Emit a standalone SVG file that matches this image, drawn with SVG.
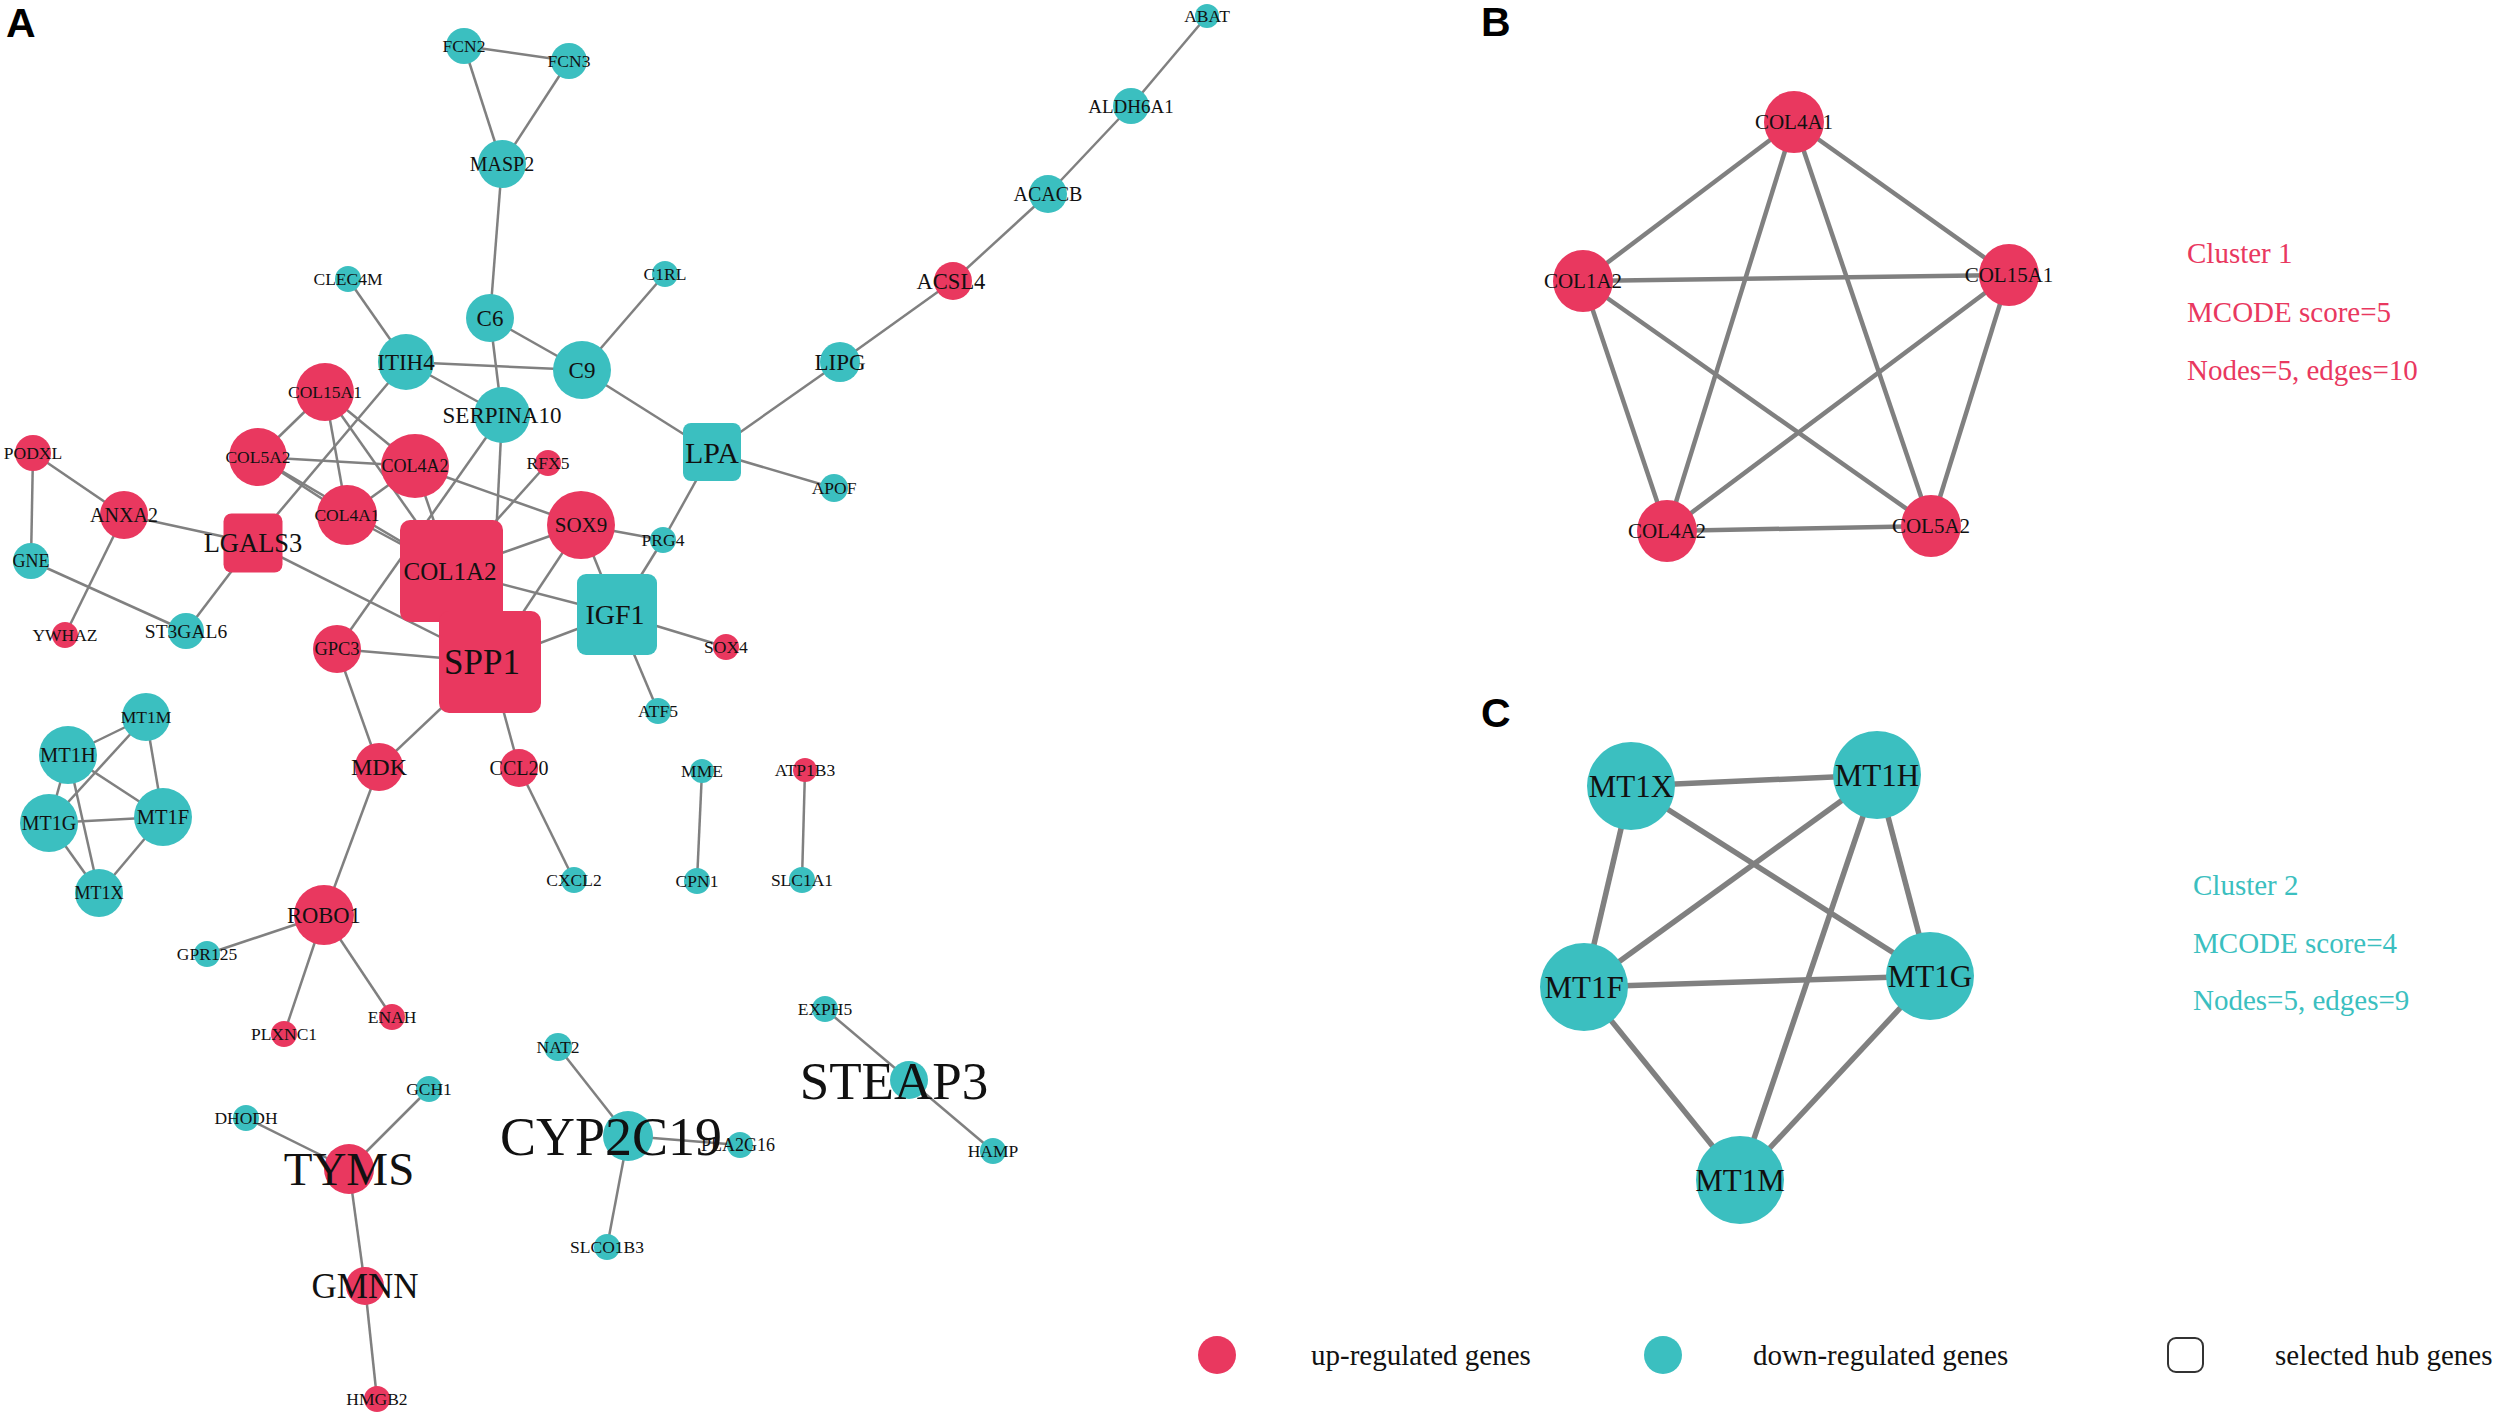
<svg xmlns="http://www.w3.org/2000/svg" width="2500" height="1426" viewBox="0 0 2500 1426">
<style>
.e{stroke:#808080;stroke-width:2.5;fill:none}
.eb{stroke:#808080;stroke-width:4.5;fill:none}
.ec{stroke:#808080;stroke-width:5.5;fill:none}
.up{fill:#E9385F}
.dn{fill:#3BBFC0}
.t{font-family:"Liberation Serif","Times New Roman",serif;text-anchor:middle;fill:#111}
.s{font-size:17.5px}
.pl{font-family:"Liberation Sans",Arial,sans-serif;font-weight:bold;font-size:41px;fill:#000}
.info{font-family:"Liberation Serif","Times New Roman",serif;font-size:29px}
.lg{font-family:"Liberation Serif","Times New Roman",serif;font-size:29px;fill:#111}
</style>
<rect width="2500" height="1426" fill="#fff"/>
<text class="pl" x="6" y="37">A</text>
<text class="pl" x="1481" y="36">B</text>
<text class="pl" x="1481" y="727">C</text>

<g id="edges">
<g id="edges-A">
<line class="e" x1="464" y1="46" x2="569" y2="61"/>
<line class="e" x1="464" y1="46" x2="502" y2="164"/>
<line class="e" x1="569" y1="61" x2="502" y2="164"/>
<line class="e" x1="502" y1="164" x2="490" y2="318"/>
<line class="e" x1="490" y1="318" x2="582" y2="370"/>
<line class="e" x1="490" y1="318" x2="502" y2="415"/>
<line class="e" x1="582" y1="370" x2="665" y2="274"/>
<line class="e" x1="582" y1="370" x2="406" y2="362"/>
<line class="e" x1="582" y1="370" x2="712" y2="452"/>
<line class="e" x1="348" y1="279" x2="406" y2="362"/>
<line class="e" x1="406" y1="362" x2="502" y2="415"/>
<line class="e" x1="406" y1="362" x2="253" y2="543"/>
<line class="e" x1="502" y1="415" x2="490" y2="662"/>
<line class="e" x1="502" y1="415" x2="337" y2="649"/>
<line class="e" x1="325" y1="392" x2="258" y2="457"/>
<line class="e" x1="325" y1="392" x2="415" y2="466"/>
<line class="e" x1="325" y1="392" x2="347" y2="515"/>
<line class="e" x1="325" y1="392" x2="451" y2="571"/>
<line class="e" x1="258" y1="457" x2="415" y2="466"/>
<line class="e" x1="258" y1="457" x2="347" y2="515"/>
<line class="e" x1="258" y1="457" x2="451" y2="571"/>
<line class="e" x1="415" y1="466" x2="347" y2="515"/>
<line class="e" x1="415" y1="466" x2="451" y2="571"/>
<line class="e" x1="347" y1="515" x2="451" y2="571"/>
<line class="e" x1="415" y1="466" x2="581" y2="525"/>
<line class="e" x1="548" y1="463" x2="451" y2="571"/>
<line class="e" x1="33" y1="453" x2="124" y2="515"/>
<line class="e" x1="33" y1="453" x2="31" y2="561"/>
<line class="e" x1="124" y1="515" x2="65" y2="635"/>
<line class="e" x1="124" y1="515" x2="253" y2="543"/>
<line class="e" x1="31" y1="561" x2="186" y2="631"/>
<line class="e" x1="253" y1="543" x2="186" y2="631"/>
<line class="e" x1="253" y1="543" x2="490" y2="662"/>
<line class="e" x1="581" y1="525" x2="663" y2="540"/>
<line class="e" x1="581" y1="525" x2="451" y2="571"/>
<line class="e" x1="581" y1="525" x2="490" y2="662"/>
<line class="e" x1="581" y1="525" x2="617" y2="614"/>
<line class="e" x1="712" y1="452" x2="840" y2="362"/>
<line class="e" x1="712" y1="452" x2="834" y2="488"/>
<line class="e" x1="712" y1="452" x2="663" y2="540"/>
<line class="e" x1="663" y1="540" x2="617" y2="614"/>
<line class="e" x1="617" y1="614" x2="451" y2="571"/>
<line class="e" x1="617" y1="614" x2="490" y2="662"/>
<line class="e" x1="617" y1="614" x2="726" y2="647"/>
<line class="e" x1="617" y1="614" x2="658" y2="711"/>
<line class="e" x1="451" y1="571" x2="490" y2="662"/>
<line class="e" x1="337" y1="649" x2="490" y2="662"/>
<line class="e" x1="337" y1="649" x2="379" y2="767"/>
<line class="e" x1="490" y1="662" x2="379" y2="767"/>
<line class="e" x1="490" y1="662" x2="519" y2="768"/>
<line class="e" x1="519" y1="768" x2="574" y2="880"/>
<line class="e" x1="379" y1="767" x2="324" y2="915"/>
<line class="e" x1="702" y1="771" x2="697" y2="881"/>
<line class="e" x1="805" y1="770" x2="802" y2="880"/>
<line class="e" x1="68" y1="755" x2="146" y2="717"/>
<line class="e" x1="146" y1="717" x2="49" y2="823"/>
<line class="e" x1="146" y1="717" x2="163" y2="817"/>
<line class="e" x1="68" y1="755" x2="163" y2="817"/>
<line class="e" x1="49" y1="823" x2="163" y2="817"/>
<line class="e" x1="68" y1="755" x2="99" y2="893"/>
<line class="e" x1="68" y1="755" x2="49" y2="823"/>
<line class="e" x1="49" y1="823" x2="99" y2="893"/>
<line class="e" x1="163" y1="817" x2="99" y2="893"/>
<line class="e" x1="324" y1="915" x2="207" y2="954"/>
<line class="e" x1="324" y1="915" x2="284" y2="1034"/>
<line class="e" x1="324" y1="915" x2="392" y2="1017"/>
<line class="e" x1="349" y1="1169" x2="246" y2="1118"/>
<line class="e" x1="349" y1="1169" x2="429" y2="1089"/>
<line class="e" x1="349" y1="1169" x2="365" y2="1286"/>
<line class="e" x1="365" y1="1286" x2="377" y2="1399"/>
<line class="e" x1="628" y1="1136" x2="558" y2="1047"/>
<line class="e" x1="628" y1="1136" x2="740" y2="1145"/>
<line class="e" x1="628" y1="1136" x2="607" y2="1247"/>
<line class="e" x1="909" y1="1080" x2="825" y2="1009"/>
<line class="e" x1="909" y1="1080" x2="993" y2="1151"/>
<line class="e" x1="840" y1="362" x2="953" y2="281"/>
<line class="e" x1="953" y1="281" x2="1048" y2="194"/>
<line class="e" x1="1048" y1="194" x2="1131" y2="106"/>
<line class="e" x1="1131" y1="106" x2="1207" y2="16"/>
</g>
<g id="edges-B">
<line class="eb" x1="1794" y1="122" x2="1583" y2="281"/>
<line class="eb" x1="1794" y1="122" x2="2009" y2="275"/>
<line class="eb" x1="1794" y1="122" x2="1667" y2="531"/>
<line class="eb" x1="1794" y1="122" x2="1931" y2="526"/>
<line class="eb" x1="1583" y1="281" x2="2009" y2="275"/>
<line class="eb" x1="1583" y1="281" x2="1667" y2="531"/>
<line class="eb" x1="1583" y1="281" x2="1931" y2="526"/>
<line class="eb" x1="2009" y1="275" x2="1667" y2="531"/>
<line class="eb" x1="2009" y1="275" x2="1931" y2="526"/>
<line class="eb" x1="1667" y1="531" x2="1931" y2="526"/>
</g>
<g id="edges-C">
<line class="ec" x1="1631" y1="786" x2="1877" y2="775"/>
<line class="ec" x1="1631" y1="786" x2="1584" y2="987"/>
<line class="ec" x1="1631" y1="786" x2="1930" y2="976"/>
<line class="ec" x1="1877" y1="775" x2="1584" y2="987"/>
<line class="ec" x1="1877" y1="775" x2="1740" y2="1180"/>
<line class="ec" x1="1877" y1="775" x2="1930" y2="976"/>
<line class="ec" x1="1584" y1="987" x2="1930" y2="976"/>
<line class="ec" x1="1584" y1="987" x2="1740" y2="1180"/>
<line class="ec" x1="1930" y1="976" x2="1740" y2="1180"/>
</g>
</g>

<g id="nodes-A">
<g id="FCN2"><circle class="dn" cx="464" cy="46" r="18"/><text class="t s" x="464" y="46" dy="0.35em">FCN2</text></g>
<g id="FCN3"><circle class="dn" cx="569" cy="61" r="18"/><text class="t s" x="569" y="61" dy="0.35em">FCN3</text></g>
<g id="MASP2"><circle class="dn" cx="502" cy="164" r="24"/><text class="t" font-size="20" x="502" y="164" dy="0.35em">MASP2</text></g>
<g id="C6"><circle class="dn" cx="490" cy="318" r="24"/><text class="t" font-size="23" x="490" y="318" dy="0.35em">C6</text></g>
<g id="C9"><circle class="dn" cx="582" cy="370" r="29"/><text class="t" font-size="23" x="582" y="370" dy="0.35em">C9</text></g>
<g id="C1RL"><circle class="dn" cx="665" cy="274" r="13"/><text class="t s" x="665" y="274" dy="0.35em">C1RL</text></g>
<g id="CLEC4M"><circle class="dn" cx="348" cy="279" r="13"/><text class="t s" x="348" y="279" dy="0.35em">CLEC4M</text></g>
<g id="ITIH4"><circle class="dn" cx="406" cy="362" r="28"/><text class="t" font-size="23" x="406" y="362" dy="0.35em">ITIH4</text></g>
<g id="SERPINA10"><circle class="dn" cx="502" cy="415" r="28"/><text class="t" font-size="23" x="502" y="415" dy="0.35em">SERPINA10</text></g>
<g id="LPA"><rect class="dn" x="683" y="423" width="58" height="58" rx="8"/><text class="t" font-size="30" x="712" y="452" dy="0.35em">LPA</text></g>
<g id="LIPG"><circle class="dn" cx="840" cy="362" r="20"/><text class="t" font-size="23" x="840" y="362" dy="0.35em">LIPG</text></g>
<g id="APOF"><circle class="dn" cx="834" cy="488" r="14"/><text class="t s" x="834" y="488" dy="0.35em">APOF</text></g>
<g id="ACSL4"><circle class="up" cx="953" cy="281" r="19"/><text class="t" font-size="22.5" x="951" y="281" dy="0.35em">ACSL4</text></g>
<g id="ACACB"><circle class="dn" cx="1048" cy="194" r="19"/><text class="t" font-size="20" x="1048" y="194" dy="0.35em">ACACB</text></g>
<g id="ALDH6A1"><circle class="dn" cx="1131" cy="106" r="18"/><text class="t" font-size="19" x="1131" y="106" dy="0.35em">ALDH6A1</text></g>
<g id="ABAT"><circle class="dn" cx="1207" cy="16" r="12"/><text class="t s" x="1207" y="16" dy="0.35em">ABAT</text></g>
<g id="COL15A1"><circle class="up" cx="325" cy="392" r="29"/><text class="t s" x="325" y="392" dy="0.35em">COL15A1</text></g>
<g id="COL5A2"><circle class="up" cx="258" cy="457" r="29"/><text class="t s" x="258" y="457" dy="0.35em">COL5A2</text></g>
<g id="COL4A2"><ellipse class="up" cx="415" cy="466" rx="34" ry="32"/><text class="t" font-size="18" x="415" y="466" dy="0.35em">COL4A2</text></g>
<g id="COL4A1"><circle class="up" cx="347" cy="515" r="30"/><text class="t s" x="347" y="515" dy="0.35em">COL4A1</text></g>
<g id="RFX5"><circle class="up" cx="548" cy="463" r="13"/><text class="t s" x="548" y="463" dy="0.35em">RFX5</text></g>
<g id="PODXL"><circle class="up" cx="33" cy="453" r="18"/><text class="t s" x="33" y="453" dy="0.35em">PODXL</text></g>
<g id="ANXA2"><circle class="up" cx="124" cy="515" r="24"/><text class="t" font-size="20" x="124" y="515" dy="0.35em">ANXA2</text></g>
<g id="GNE"><circle class="dn" cx="31" cy="561" r="18"/><text class="t" font-size="18" x="31" y="561" dy="0.35em">GNE</text></g>
<g id="YWHAZ"><circle class="up" cx="65" cy="635" r="13"/><text class="t s" x="65" y="635" dy="0.35em">YWHAZ</text></g>
<g id="ST3GAL6"><circle class="dn" cx="186" cy="631" r="18"/><text class="t" font-size="19.5" x="186" y="631" dy="0.35em">ST3GAL6</text></g>
<g id="LGALS3"><rect class="up" x="223.5" y="513.5" width="59" height="59" rx="8"/><text class="t" font-size="26.5" x="253" y="543" dy="0.35em">LGALS3</text></g>
<g id="SOX9"><circle class="up" cx="581" cy="525" r="34"/><text class="t" font-size="21" x="581" y="525" dy="0.35em">SOX9</text></g>
<g id="PRG4"><circle class="dn" cx="663" cy="540" r="13"/><text class="t s" x="663" y="540" dy="0.35em">PRG4</text></g>
<g id="COL1A2"><rect class="up" x="400" y="520" width="103" height="102" rx="10"/><text class="t" font-size="25" x="450" y="571" dy="0.35em">COL1A2</text></g>
<g id="SPP1"><rect class="up" x="439" y="611" width="102" height="102" rx="10"/><text class="t" font-size="35" x="482" y="662" dy="0.35em">SPP1</text></g>
<g id="IGF1"><rect class="dn" x="577" y="574" width="80" height="81" rx="9"/><text class="t" font-size="28" x="615" y="614" dy="0.35em">IGF1</text></g>
<g id="SOX4"><circle class="up" cx="726" cy="647" r="13"/><text class="t s" x="726" y="647" dy="0.35em">SOX4</text></g>
<g id="ATF5"><circle class="dn" cx="658" cy="711" r="13"/><text class="t s" x="658" y="711" dy="0.35em">ATF5</text></g>
<g id="GPC3"><circle class="up" cx="337" cy="649" r="24"/><text class="t" font-size="18.5" x="337" y="649" dy="0.35em">GPC3</text></g>
<g id="MDK"><circle class="up" cx="379" cy="767" r="24"/><text class="t" font-size="24" x="379" y="767" dy="0.35em">MDK</text></g>
<g id="CCL20"><circle class="up" cx="519" cy="768" r="19"/><text class="t" font-size="20" x="519" y="768" dy="0.35em">CCL20</text></g>
<g id="CXCL2"><circle class="dn" cx="574" cy="880" r="13"/><text class="t s" x="574" y="880" dy="0.35em">CXCL2</text></g>
<g id="MME"><circle class="dn" cx="702" cy="771" r="12"/><text class="t s" x="702" y="771" dy="0.35em">MME</text></g>
<g id="CPN1"><circle class="dn" cx="697" cy="881" r="13"/><text class="t s" x="697" y="881" dy="0.35em">CPN1</text></g>
<g id="ATP1B3"><circle class="up" cx="805" cy="770" r="12"/><text class="t s" x="805" y="770" dy="0.35em">ATP1B3</text></g>
<g id="SLC1A1"><circle class="dn" cx="802" cy="880" r="13"/><text class="t s" x="802" y="880" dy="0.35em">SLC1A1</text></g>
<g id="MT1M"><circle class="dn" cx="146" cy="717" r="24"/><text class="t s" x="146" y="717" dy="0.35em">MT1M</text></g>
<g id="MT1H"><circle class="dn" cx="68" cy="755" r="29"/><text class="t" font-size="20.5" x="68" y="755" dy="0.35em">MT1H</text></g>
<g id="MT1G"><circle class="dn" cx="49" cy="823" r="29"/><text class="t" font-size="20" x="49" y="823" dy="0.35em">MT1G</text></g>
<g id="MT1F"><circle class="dn" cx="163" cy="817" r="29"/><text class="t" font-size="20.5" x="163" y="817" dy="0.35em">MT1F</text></g>
<g id="MT1X"><circle class="dn" cx="99" cy="893" r="24"/><text class="t" font-size="18" x="99" y="893" dy="0.35em">MT1X</text></g>
<g id="ROBO1"><circle class="up" cx="324" cy="915" r="30"/><text class="t" font-size="22.5" x="324" y="915" dy="0.35em">ROBO1</text></g>
<g id="GPR125"><circle class="dn" cx="207" cy="954" r="13"/><text class="t s" x="207" y="954" dy="0.35em">GPR125</text></g>
<g id="PLXNC1"><circle class="up" cx="284" cy="1034" r="13"/><text class="t s" x="284" y="1034" dy="0.35em">PLXNC1</text></g>
<g id="ENAH"><circle class="up" cx="392" cy="1017" r="13"/><text class="t s" x="392" y="1017" dy="0.35em">ENAH</text></g>
<g id="GCH1"><circle class="dn" cx="429" cy="1089" r="13"/><text class="t s" x="429" y="1089" dy="0.35em">GCH1</text></g>
<g id="DHODH"><circle class="dn" cx="246" cy="1118" r="13"/><text class="t s" x="246" y="1118" dy="0.35em">DHODH</text></g>
<g id="TYMS"><circle class="up" cx="349" cy="1169" r="25"/><text class="t" font-size="47" x="349" y="1169" dy="0.35em">TYMS</text></g>
<g id="GMNN"><circle class="up" cx="365" cy="1286" r="19"/><text class="t" font-size="35" x="365" y="1286" dy="0.35em">GMNN</text></g>
<g id="HMGB2"><circle class="up" cx="377" cy="1399" r="13"/><text class="t s" x="377" y="1399" dy="0.35em">HMGB2</text></g>
<g id="NAT2"><circle class="dn" cx="558" cy="1047" r="14"/><text class="t s" x="558" y="1047" dy="0.35em">NAT2</text></g>
<g id="PLA2G16"><circle class="dn" cx="740" cy="1145" r="13"/><text class="t" font-size="18" x="738" y="1145" dy="0.35em">PLA2G16</text></g>
<g id="SLCO1B3"><circle class="dn" cx="607" cy="1247" r="13"/><text class="t s" x="607" y="1247" dy="0.35em">SLCO1B3</text></g>
<g id="CYP2C19"><circle class="dn" cx="628" cy="1136" r="25"/><text class="t" font-size="54" x="611" y="1136" dy="0.35em">CYP2C19</text></g>
<g id="EXPH5"><circle class="dn" cx="825" cy="1009" r="13"/><text class="t s" x="825" y="1009" dy="0.35em">EXPH5</text></g>
<g id="HAMP"><circle class="dn" cx="993" cy="1151" r="13"/><text class="t s" x="993" y="1151" dy="0.35em">HAMP</text></g>
<g id="STEAP3"><circle class="dn" cx="909" cy="1080" r="19"/><text class="t" font-size="53" x="894" y="1080" dy="0.35em">STEAP3</text></g>
</g>

<g id="nodes-B">
<g id="B-COL4A1"><ellipse class="up" cx="1794" cy="122" rx="30" ry="31"/><text class="t" font-size="21" x="1794" y="122" dy="0.35em">COL4A1</text></g>
<g id="B-COL1A2"><ellipse class="up" cx="1583" cy="281" rx="30" ry="31"/><text class="t" font-size="21" x="1583" y="281" dy="0.35em">COL1A2</text></g>
<g id="B-COL15A1"><ellipse class="up" cx="2009" cy="275" rx="30" ry="31"/><text class="t" font-size="21" x="2009" y="275" dy="0.35em">COL15A1</text></g>
<g id="B-COL4A2"><ellipse class="up" cx="1667" cy="531" rx="30" ry="31"/><text class="t" font-size="21" x="1667" y="531" dy="0.35em">COL4A2</text></g>
<g id="B-COL5A2"><ellipse class="up" cx="1931" cy="526" rx="30" ry="31"/><text class="t" font-size="21" x="1931" y="526" dy="0.35em">COL5A2</text></g>
</g>
<g id="info-B" class="info" fill="#E9385F">
<text x="2187" y="263">Cluster 1</text>
<text x="2187" y="322">MCODE score=5</text>
<text x="2187" y="380">Nodes=5, edges=10</text>
</g>

<g id="nodes-C">
<g id="C-MT1X"><circle class="dn" cx="1631" cy="786" r="44"/><text class="t" font-size="31" x="1631" y="786" dy="0.35em">MT1X</text></g>
<g id="C-MT1H"><circle class="dn" cx="1877" cy="775" r="44"/><text class="t" font-size="31" x="1877" y="775" dy="0.35em">MT1H</text></g>
<g id="C-MT1F"><circle class="dn" cx="1584" cy="987" r="44"/><text class="t" font-size="31" x="1584" y="987" dy="0.35em">MT1F</text></g>
<g id="C-MT1G"><circle class="dn" cx="1930" cy="976" r="44"/><text class="t" font-size="31" x="1930" y="976" dy="0.35em">MT1G</text></g>
<g id="C-MT1M"><circle class="dn" cx="1740" cy="1180" r="44"/><text class="t" font-size="31" x="1740" y="1180" dy="0.35em">MT1M</text></g>
</g>
<g id="info-C" class="info" fill="#3BBFC0">
<text x="2193" y="895">Cluster 2</text>
<text x="2193" y="953">MCODE score=4</text>
<text x="2193" y="1010">Nodes=5, edges=9</text>
</g>

<g id="legend">
<circle class="up" cx="1217" cy="1355" r="19"/>
<text class="lg" x="1311" y="1365">up-regulated genes</text>
<circle class="dn" cx="1663" cy="1355" r="19"/>
<text class="lg" x="1753" y="1365">down-regulated genes</text>
<rect x="2168" y="1338" width="35" height="34" rx="8" fill="none" stroke="#333" stroke-width="2"/>
<text class="lg" x="2275" y="1365">selected hub genes</text>
</g>
</svg>
